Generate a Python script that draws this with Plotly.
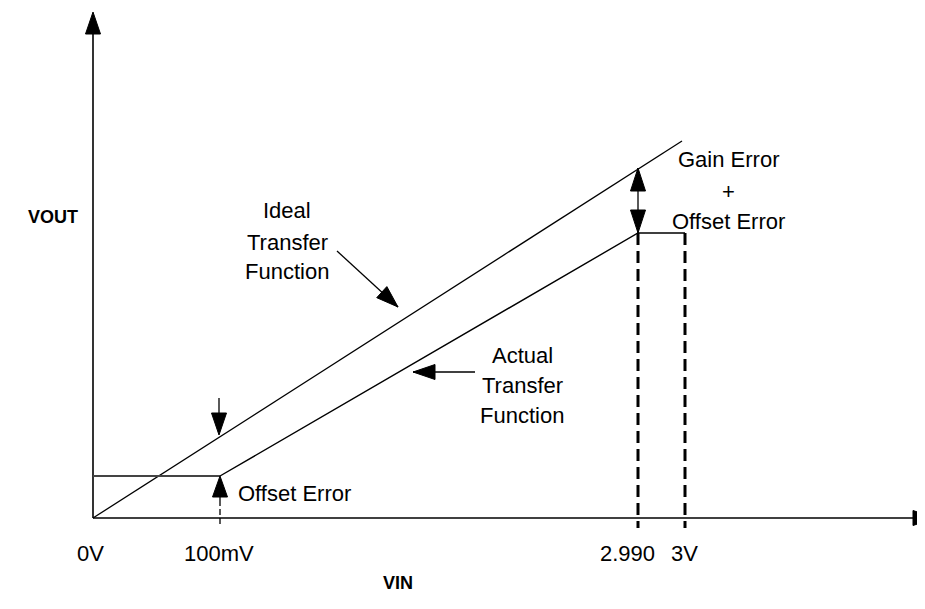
import math
import plotly.graph_objects as go

# ---- diagram geometry (diagram units, y grows downward) ----
axis_origin = [93, 518]
yaxis_tip = [93, 12]
xaxis_tip = [935, 518]

ideal_x = [93, 682]
ideal_y = [518, 141]

offset_x = [93, 220]
offset_y = [476, 476]

actual_x = [220, 638, 685]
actual_y = [476, 233, 233]

dash_x = [638, 685]
dash_top = 233
dash_bottom = 528

offset_arrow = {"tail": [220, 500], "tip": [220, 476]}
offset_tick_y = [500, 527]
ideal_down_arrow = {"tail": [219, 398], "tip": [219, 435]}
gain_arrow_x = 638
gain_arrow_y = [168, 233]
ideal_label_arrow = {"tail": [337, 251], "tip": [398, 307]}
actual_label_arrow = {"tail": [475, 372], "tip": [413, 372]}

tick_labels = ["0V", "100mV", "2.990", "3V"]
tick_label_x = [90, 219, 627, 684]
tick_label_y = 553

FONT = "Liberation Sans, Arial, sans-serif"
PAGE_OFFSET = 8  # default body margin of the html page
PAGE_W, PAGE_H = 925, 609
FIG_H = PAGE_H - 2 * PAGE_OFFSET  # avoid a vertical scrollbar

fig = go.Figure()


def seg(xs, ys, width=1.3, color="black", dash="solid"):
    fig.add_trace(go.Scatter(x=xs, y=ys, mode="lines",
                             line=dict(color=color, width=width, dash=dash),
                             hoverinfo="skip", showlegend=False))


def head(tip, tail, L=22, W=15):
    dx, dy = tail[0] - tip[0], tail[1] - tip[1]
    n = math.hypot(dx, dy)
    ux, uy = dx / n, dy / n
    bx, by = tip[0] + ux * L, tip[1] + uy * L
    px, py = -uy * W / 2, ux * W / 2
    path = (f"M{tip[0]},{tip[1]} L{bx + px},{by + py} "
            f"L{bx - px},{by - py} Z")
    fig.add_shape(type="path", path=path, xref="x", yref="y",
                  fillcolor="black", line=dict(color="black", width=1))


# axes
seg([axis_origin[0], yaxis_tip[0]], [axis_origin[1], yaxis_tip[1] + 20], width=1.6)
head(yaxis_tip, axis_origin)
seg([axis_origin[0], xaxis_tip[0] - 20], [axis_origin[1], xaxis_tip[1]], width=1.6)
head(xaxis_tip, axis_origin)

# transfer functions
seg(ideal_x, ideal_y, width=1.3)
seg(offset_x, offset_y, width=2, color="#444444")
seg(actual_x, actual_y, width=1.4)

# dashed verticals
for dx in dash_x:
    seg([dx, dx], [dash_top, dash_bottom], width=3, dash="12px,6px")

# offset error arrow + dashed tick
seg([offset_arrow["tail"][0]] * 2, [offset_arrow["tail"][1], offset_arrow["tip"][1] + 15], width=1.3)
head(offset_arrow["tip"], offset_arrow["tail"], L=21, W=15)
seg([offset_arrow["tail"][0]] * 2, offset_tick_y, width=1.3, dash="6px,3px")

# down arrow at ideal line
seg([ideal_down_arrow["tail"][0]] * 2, [ideal_down_arrow["tail"][1], ideal_down_arrow["tip"][1] - 15], width=1.3)
head(ideal_down_arrow["tip"], ideal_down_arrow["tail"])

# gain error double arrow
seg([gain_arrow_x] * 2, gain_arrow_y, width=1.3)
head([gain_arrow_x, gain_arrow_y[0]], [gain_arrow_x, gain_arrow_y[1]], L=23, W=15)
head([gain_arrow_x, gain_arrow_y[1]], [gain_arrow_x, gain_arrow_y[0]], L=23, W=15)

# label arrows
for a in (ideal_label_arrow, actual_label_arrow):
    seg([a["tail"][0], a["tip"][0]], [a["tail"][1], a["tip"][1]], width=1.3)
    head(a["tip"], a["tail"])


def text(x, y, s, size=22, bold=False, xanchor="center"):
    fig.add_annotation(x=x, y=y, text=f"<b>{s}</b>" if bold else s,
                       showarrow=False, xanchor=xanchor, yanchor="middle",
                       font=dict(family=FONT, size=size, color="black"))


for lbl, lx in zip(tick_labels, tick_label_x):
    text(lx, tick_label_y, lbl)

text(53, 217, "VOUT", size=18, bold=True)
text(398, 583, "VIN", size=18, bold=True)

for t, ty in zip(["Ideal", "Transfer", "Function"], [210, 242, 271]):
    text(287, ty, t)
for t, ty in zip(["Actual", "Transfer", "Function"], [355, 385, 415]):
    text(522, ty, t)
for t, ty in zip(["Gain Error", "+", "Offset Error"], [159, 191, 221]):
    text(728, ty, t)
text(236, 493, "Offset Error", xanchor="left")

fig.update_layout(
    width=PAGE_W - PAGE_OFFSET, height=FIG_H,
    margin=dict(l=0, r=0, t=0, b=0),
    paper_bgcolor="white", plot_bgcolor="white",
    xaxis=dict(range=[PAGE_OFFSET, PAGE_W], visible=False, fixedrange=True),
    yaxis=dict(range=[PAGE_OFFSET + FIG_H, PAGE_OFFSET], visible=False, fixedrange=True),
    showlegend=False,
)

fig.write_html("out.html")
